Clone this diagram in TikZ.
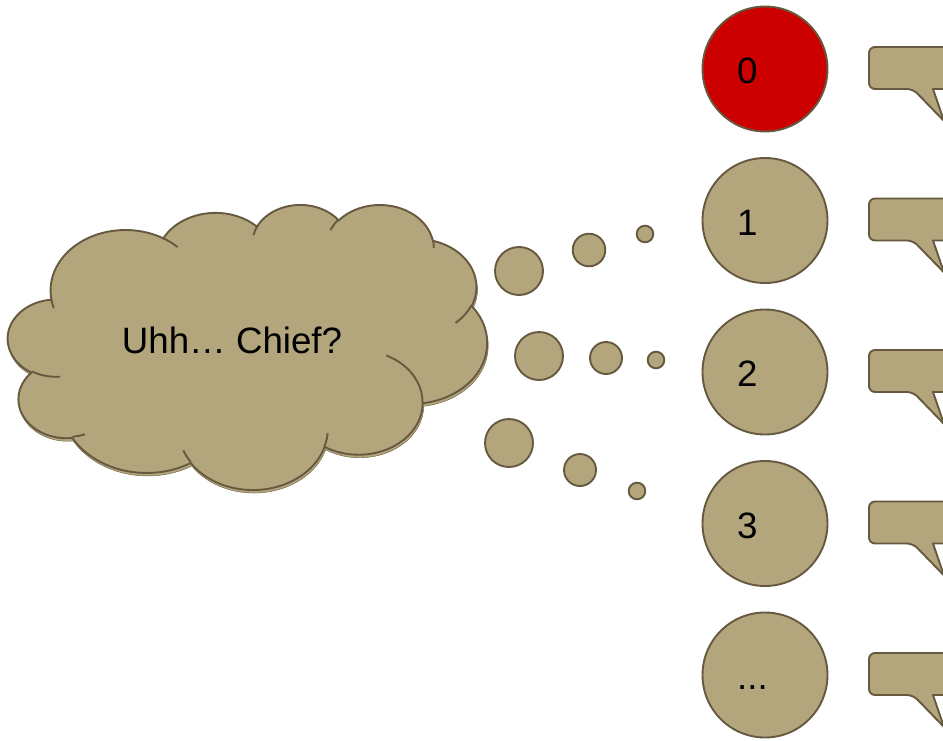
\documentclass[tikz,border=0pt]{standalone}
\usepackage{fontspec}
\setmainfont{Liberation Sans}
\usetikzlibrary{shadows}

\definecolor{khaki}{HTML}{B3A67D}
\definecolor{khakiline}{HTML}{66593F}
\definecolor{alarm}{HTML}{CC0000}

\newcommand{\etcdots}{...}

\tikzset{
  blob/.style={circle, fill=khaki, draw=khakiline, line width=1.9pt, inner sep=0pt},
  member/.style={circle, draw=khakiline, line width=1.9pt, inner sep=0pt, minimum size=125pt},
  speech/.style={fill=khaki, draw=khakiline, line width=1.9pt, line join=round},
  puffs/.style={fill=khaki, draw=khakiline, line width=1.9pt,
                copy shadow={shadow xshift=1pt, shadow yshift=-3pt}},
  creases/.style={draw=khakiline, line width=1.9pt},
  bigtext/.style={font=\fontsize{36.7}{44}\selectfont, inner sep=0pt}
}

\begin{document}
\begin{tikzpicture}[x=1pt, y=-1pt]
    \useasboundingbox (0,0) rectangle (943,740);

    % thought cloud: eleven elliptic puffs in a 432 x 432 box, squeezed into place
    \begin{scope}[shift={(8,204)}, x=1.1088pt, y=-0.65972pt]
        \path[puffs] (39,143.7)
            \foreach \w/\h/\s/\d [evaluate=\s as \ta using {atan2(\w*sin(\s),\h*cos(\s))},
                                  evaluate=\d as \da using {mod(atan2(\w*sin(\s+\d),\h*cos(\s+\d))-atan2(\w*sin(\s),\h*cos(\s))+720,360)}]
            in {67.53/91.90/-190.4875/123.7805, 53.33/72.67/-144.1024/89.9452,
                43.65/59.45/-145.8079/99.7230,  48.57/65.95/-130.9861/117.2417,
                53.33/72.73/-78.7089/109.0269,  67.75/92.20/-46.2673/130.2690,
                57.85/78.67/0.6250/114.0333,    67.52/92.15/22.4516/115.1726,
                77.20/105.43/66.2426/75.7110,   43.60/59.18/-274.9421/146.7356,
                43.45/59.45/-246.8285/152.5189}
            { arc[start angle=\ta, delta angle=\da, x radius=\w, y radius=\h] } -- cycle;
        % little creases where the puffs overlap
        \path[creases]
            \foreach \px/\py/\w/\h/\s/\d [evaluate=\s as \ta using {atan2(\w*sin(\s),\h*cos(\s))},
                                          evaluate=\d as \da using {mod(atan2(\w*sin(\s+\d),\h*cos(\s+\d))-atan2(\w*sin(\s),\h*cos(\s))+720,360)}]
            in {46.93/261.77/43.45/59.45/86.7420/26.4295,
                69.28/348.99/43.60/59.18/73.6105/11.4475,
                164.78/390.90/67.52/92.15/137.6242/14.0811,
                288.27/347.51/67.52/92.15/6.4533/15.9984,
                341.29/229.54/57.85/78.67/-70.2924/70.9174,
                417.98/153.54/53.33/72.73/30.3180/27.7515,
                383.24/54.26/48.57/65.95/-13.7443/14.8589,
                290.78/39.52/48.57/65.95/-149.1815/18.1954,
                221.41/47.20/43.65/59.45/-163.4943/17.6864,
                140.00/51.92/67.53/91.90/-66.7070/12.3194,
                41.27/157.89/67.53/91.90/157.6544/11.8582}
            { (\px,\py) arc[start angle=\ta, delta angle=\da, x radius=\w, y radius=\h] };
    \end{scope}
    \node[bigtext] (msg) at (232,340) {Uhh… Chief?};

    % three trails of dots, big to small
    \foreach \x/\y/\r [count=\k] in {519/271/24, 589/250/16.3, 645/234/8.3,
                                     539/356/24, 606/358/16, 656/360/8.3,
                                     509/443/24, 580/470/16, 637/491/8.3} {
        \pgfmathsetmacro{\d}{2*\r}
        \node[blob, minimum size=\d pt] (dot\k) at (\x,\y) {};
    }

    % crew members and their speech bubbles
    \foreach \t/\c [count=\k from 0] in {0/alarm, 1/khaki, 2/khaki, 3/khaki, \etcdots/khaki} {
        \pgfmathsetmacro{\cy}{69+151.5*\k}
        \pgfmathsetmacro{\ytop}{\cy-22}
        \pgfmathsetmacro{\ybot}{\cy+20}
        \pgfmathsetmacro{\ytip}{\cy+52}
        \node[member, fill=\c] (m\k) at (765,\cy) {};
        \node[bigtext, anchor=base west] (n\k) at (737,\cy+14.5) {\t};
        \draw[speech] (913,\ybot) -- (944,\ytip) -- (933,\ybot) -- (965,\ybot) -- (965,\ytop)
            [rounded corners=6pt] -- (869,\ytop) -- (869,\ybot) -- cycle;
    }
\end{tikzpicture}
\end{document}
